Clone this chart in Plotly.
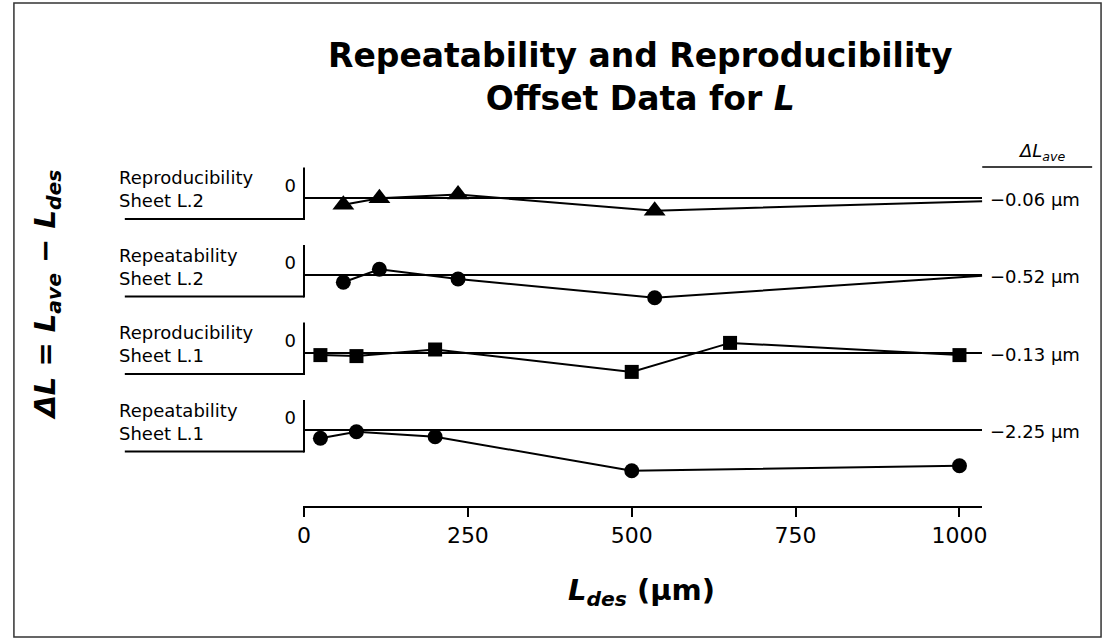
import plotly.graph_objects as go

# ---------------- data (ΔL in µm) ----------------
sheet_l2_x = [60, 115, 235, 535, 1035]
repro_l2_dl = [-0.10, -0.01, 0.04, -0.18, -0.05]
repeat_l2_dl = [-0.65, 0.51, -0.36, -2.03, -0.06]

repro_l1_x = [25, 80, 200, 500, 650, 1000]
repro_l1_dl = [-0.13, -0.18, 0.15, -0.97, 0.48, -0.13]

repeat_l1_x = [25, 80, 200, 500, 1000]
repeat_l1_dl = [-1.00, -0.21, -0.81, -4.92, -4.32]

panel_names = ["Reproducibility<br>Sheet L.2", "Repeatability<br>Sheet L.2",
               "Reproducibility<br>Sheet L.1", "Repeatability<br>Sheet L.1"]
dl_ave_labels = ["\u22120.06 µm", "\u22120.52 µm", "\u22120.13 µm", "\u22122.25 µm"]
x_ticks = [0, 250, 500, 750, 1000]

# ---------------- layout geometry ----------------
W, H = 1111, 643
FONT = "DejaVu Sans"
X0PX, PXPER = 301, 0.662           # pixel of x=0, pixels per µm on x
XL, XR = 300, 986                  # x-axis domain in pixels
zero_px = [197.5, 275, 352.5, 430]  # pixel row of each panel's zero line
y_scale = [73, 11.2, 20, 8.27]      # px per µm of each panel
UP, DOWN = 35, 43

series = [
    (sheet_l2_x, repro_l2_dl, "triangle-up", 19),
    (sheet_l2_x, repeat_l2_dl, "circle", 15),
    (repro_l1_x, repro_l1_dl, "square", 14),
    (repeat_l1_x, repeat_l1_dl, "circle", 15),
]


def py(p):
    return 1 - p / H


def px(p):
    return p / W


fig = go.Figure()
for i, (xs, ys, sym, sz) in enumerate(series):
    fig.add_trace(go.Scatter(
        x=xs, y=ys, mode="lines+markers",
        xaxis="x", yaxis="y" if i == 0 else f"y{i+1}",
        line=dict(color="black", width=2),
        marker=dict(symbol=sym, size=sz, color="black"),
        cliponaxis=False, showlegend=False, hoverinfo="skip",
    ))

layout = dict(
    width=W, height=H, autosize=False,
    margin=dict(l=0, r=0, t=0, b=0),
    paper_bgcolor="white", plot_bgcolor="rgba(0,0,0,0)",
    font=dict(family=FONT, color="black"),
    xaxis=dict(
        domain=[px(XL), px(XR)],
        range=[(XL - X0PX) / PXPER, (XR - X0PX) / PXPER],
        anchor="free", position=py(507),
        showline=True, linecolor="black", linewidth=2,
        ticks="outside", ticklen=9, tickwidth=1.5, tickcolor="black",
        tickvals=x_ticks, ticktext=[str(t) for t in x_ticks],
        tickfont=dict(size=22, family=FONT),
        showgrid=False, zeroline=False,
    ),
)

shapes = []
annotations = []
for i, z in enumerate(zero_px):
    k = y_scale[i]
    name = "yaxis" if i == 0 else f"yaxis{i+1}"
    layout[name] = dict(
        domain=[py(z + DOWN), py(z - UP)],
        range=[-DOWN / k, UP / k],
        anchor="x", showline=False, showgrid=False,
        zeroline=True, zerolinecolor="black", zerolinewidth=2,
        tickvals=[0], ticktext=["0"], ticks="",
        ticklabelshift=-12, ticklabelstandoff=6,
        tickfont=dict(size=18, family=FONT),
    )
    # vertical axis stub and label underline
    shapes.append(dict(type="line", xref="paper", yref="paper",
                       x0=px(301), x1=px(301), y0=py(z - 30), y1=py(z + 22.5),
                       line=dict(color="black", width=2)))
    shapes.append(dict(type="line", xref="paper", yref="paper",
                       x0=px(120), x1=px(301), y0=py(z + 21.5), y1=py(z + 21.5),
                       line=dict(color="black", width=2)))
    annotations.append(dict(text=panel_names[i], xref="paper", yref="paper",
                            x=px(112), y=py(z - 8.5), xanchor="left", yanchor="middle",
                            align="left", showarrow=False,
                            font=dict(size=18, family=FONT)))
    annotations.append(dict(text=dl_ave_labels[i], xref="paper", yref="paper",
                            x=px(992), y=py(z + 1.5), xanchor="left", yanchor="middle",
                            showarrow=False, font=dict(size=18, family=FONT)))

# header ΔL_ave
annotations.append(dict(text="<i>ΔL<sub>ave</sub></i>", xref="paper", yref="paper",
                        x=px(1046), y=py(152), xanchor="center", yanchor="middle",
                        showarrow=False, font=dict(size=18, family=FONT)))
shapes.append(dict(type="line", xref="paper", yref="paper",
                   x0=px(986), x1=px(1097), y0=py(167), y1=py(167),
                   line=dict(color="black", width=1.5)))

# title
annotations.append(dict(text="<b>Repeatability and Reproducibility<br>Offset Data for <i>L</i></b>",
                        xref="paper", yref="paper", x=px(641), y=py(77),
                        xanchor="center", yanchor="middle", showarrow=False,
                        font=dict(size=33, family=FONT)))
# y title
annotations.append(dict(text="<b><i>ΔL = L<sub>ave</sub> \u2212 L<sub>des</sub></i></b>",
                        xref="paper", yref="paper", x=px(41), y=py(295),
                        xanchor="center", yanchor="middle", textangle=-90,
                        showarrow=False, font=dict(size=29, family=FONT)))
# x title
annotations.append(dict(text="<b><i>L<sub>des</sub></i> (µm)</b>",
                        xref="paper", yref="paper", x=px(642), y=py(592),
                        xanchor="center", yanchor="middle",
                        showarrow=False, font=dict(size=29, family=FONT)))

# outer frame
shapes.append(dict(type="rect", xref="paper", yref="paper",
                   x0=px(8), x1=px(1106), y0=py(637), y1=py(3),
                   line=dict(color="#333333", width=1.5)))

layout["shapes"] = shapes
layout["annotations"] = annotations
fig.update_layout(**layout)

fig.write_html("out.html", config={"displayModeBar": False},
               post_script="document.body.style.margin='0';document.body.style.overflow='hidden';")
